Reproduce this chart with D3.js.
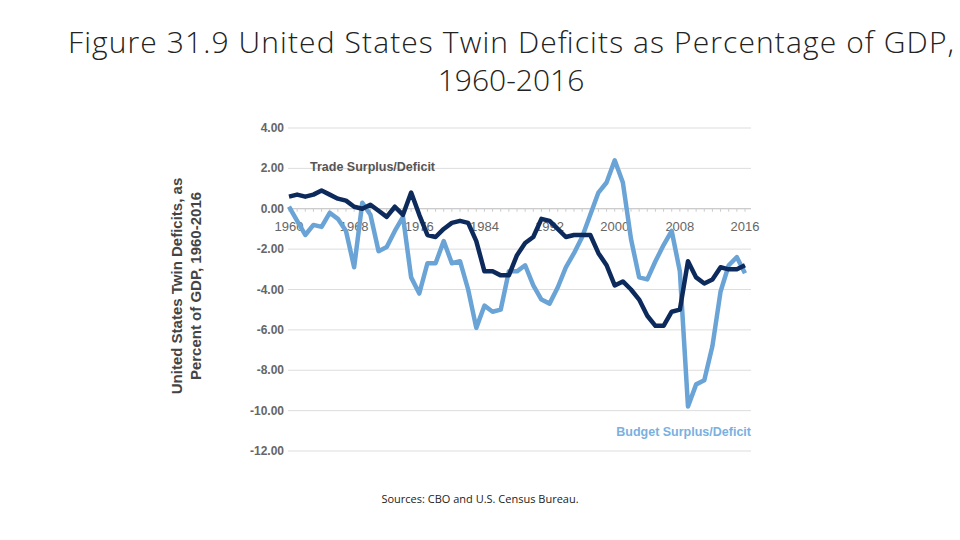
<!DOCTYPE html>
<html><head><meta charset="utf-8">
<script src="https://cdn.jsdelivr.net/npm/d3@7"></script>
<style>body{margin:0;background:#fff}</style>
</head><body>
<svg id="chart" width="960" height="540"></svg>
<script>
// data
const years = d3.range(1960, 2017);
const trade = [0.6,0.7,0.6,0.7,0.9,0.7,0.5,0.4,0.1,0.0,0.2,-0.1,-0.4,0.1,-0.3,0.8,-0.3,-1.3,-1.4,-1.0,-0.7,-0.6,-0.7,-1.6,-3.1,-3.1,-3.3,-3.3,-2.3,-1.7,-1.4,-0.5,-0.6,-1.0,-1.4,-1.3,-1.3,-1.3,-2.2,-2.8,-3.8,-3.6,-4.0,-4.5,-5.3,-5.8,-5.8,-5.1,-5.0,-2.6,-3.4,-3.7,-3.5,-2.9,-3.0,-3.0,-2.8];
const budget = [0.1,-0.6,-1.3,-0.8,-0.9,-0.2,-0.5,-1.1,-2.9,0.3,-0.3,-2.1,-1.9,-1.1,-0.4,-3.4,-4.2,-2.7,-2.7,-1.6,-2.7,-2.6,-4.0,-5.9,-4.8,-5.1,-5.0,-3.1,-3.1,-2.8,-3.8,-4.5,-4.7,-3.9,-2.9,-2.2,-1.4,-0.3,0.8,1.3,2.4,1.3,-1.5,-3.4,-3.5,-2.6,-1.8,-1.1,-3.1,-9.8,-8.7,-8.5,-6.8,-4.1,-2.8,-2.4,-3.2];
const yTicks = [4,2,0,-2,-4,-6,-8,-10,-12];
const xTicks = [1960,1968,1976,1984,1992,2000,2008,2016];

const svg = d3.select("#chart");

const x = d3.scaleLinear().domain([1960, 2016]).range([289, 745]);
const y = d3.scaleLinear().domain([-12, 4]).range([451, 128]);

// title
svg.append("text").attr("x", 511).attr("y", 53).attr("text-anchor", "middle")
    .style("font-family", "'Open Sans', sans-serif").style("font-weight", 300)
    .style("font-size", "30px").attr("textLength", 886).attr("fill", "#222")
    .text("Figure 31.9 United States Twin Deficits as Percentage of GDP,");
svg.append("text").attr("x", 511).attr("y", 91).attr("text-anchor", "middle")
    .style("font-family", "'Open Sans', sans-serif").style("font-weight", 300)
    .style("font-size", "30px").attr("fill", "#222").text("1960-2016");

// gridlines + y labels
svg.append("g").selectAll("line").data(yTicks).join("line")
    .attr("x1", 288).attr("x2", 751)
    .attr("y1", d => y(d)).attr("y2", d => y(d))
    .attr("stroke", d => d === 0 ? "#bbb" : "#ddd").attr("stroke-width", 1);
svg.append("g").selectAll("text").data(yTicks).join("text")
    .attr("x", 284).attr("y", d => y(d) + 4).attr("text-anchor", "end")
    .style("font-family", "'Liberation Sans', Arial, sans-serif").style("font-weight", "bold")
    .style("font-size", "12px").attr("fill", "#666").text(d => d.toFixed(2));

// x ticks along the zero line
svg.append("g").selectAll("line").data(years).join("line")
    .attr("x1", d => x(d)).attr("x2", d => x(d))
    .attr("y1", y(0)).attr("y2", y(0) + 3).attr("stroke", "#ccc");
svg.append("g").selectAll("text").data(xTicks).join("text")
    .attr("x", d => x(d)).attr("y", y(0) + 22).attr("text-anchor", "middle")
    .style("font-family", "'Liberation Sans', Arial, sans-serif")
    .style("font-size", "13px").attr("fill", "#666").text(d => d);

const line = d3.line().x((d, i) => x(years[i])).y(d => y(d));

svg.append("path").datum(budget).attr("d", line).attr("fill", "none")
    .attr("stroke", "#6aa3d5").attr("stroke-width", 4.5).attr("stroke-linejoin", "round");
svg.append("path").datum(trade).attr("d", line).attr("fill", "none")
    .attr("stroke", "#0d2a5c").attr("stroke-width", 4.5).attr("stroke-linejoin", "round");

// series labels
svg.append("text").attr("x", 310).attr("y", 171)
    .style("font-family", "'Liberation Sans', Arial, sans-serif").style("font-weight", "bold")
    .style("font-size", "12.5px").attr("fill", "#555").text("Trade Surplus/Deficit");
svg.append("text").attr("x", 751).attr("y", 436).attr("text-anchor", "end")
    .style("font-family", "'Liberation Sans', Arial, sans-serif").style("font-weight", "bold")
    .style("font-size", "12.5px").attr("fill", "#7ab0e0").text("Budget Surplus/Deficit");

// y axis title
const yt = svg.append("text").attr("transform", "translate(182,286) rotate(-90)")
    .attr("text-anchor", "middle")
    .style("font-family", "'Liberation Sans', Arial, sans-serif").style("font-weight", "bold")
    .style("font-size", "15px").attr("fill", "#444");
yt.append("tspan").attr("x", 0).attr("dy", 0).text("United States Twin Deficits, as");
yt.append("tspan").attr("x", 0).attr("dy", 19).text("Percent of GDP, 1960-2016");

// source
svg.append("text").attr("x", 480).attr("y", 503).attr("text-anchor", "middle")
    .style("font-family", "'Open Sans', sans-serif").style("font-size", "11px")
    .attr("fill", "#222").text("Sources: CBO and U.S. Census Bureau.");
</script>
</body></html>
